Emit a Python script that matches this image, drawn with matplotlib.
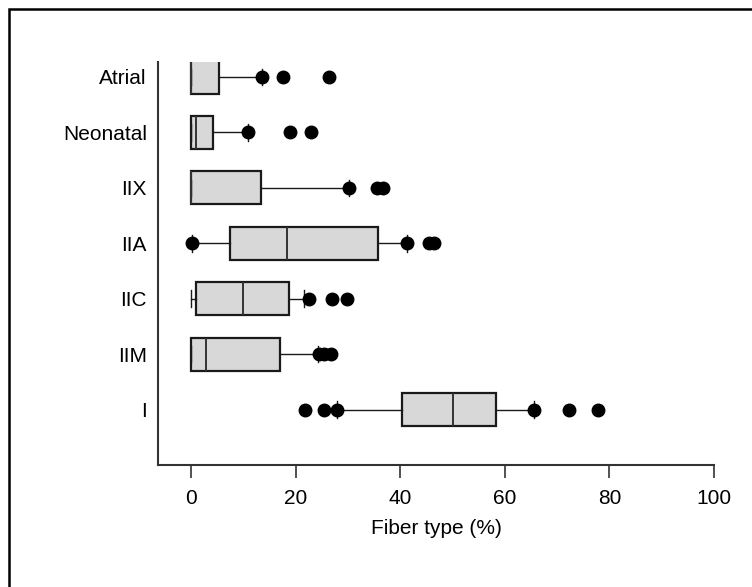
import matplotlib.pyplot as plt
from matplotlib.patches import Rectangle

plt.rcParams['font.family'] = ['Liberation Sans', 'DejaVu Sans']

# categories bottom -> top
categories = ["I", "IIM", "IIC", "IIA", "IIX", "Neonatal", "Atrial"]
q1 = [40.4, 0.0, 0.9, 7.5, 0.0, 0.0, 0.0]
med = [50.1, 2.8, 10.0, 18.4, 0.0, 0.9, 0.0]
q3 = [58.3, 17.0, 18.7, 35.8, 13.3, 4.2, 5.4]
whislo = [28.0, 0.0, 0.1, 0.2, 0.0, 0.0, 0.0]
whishi = [65.6, 24.3, 21.6, 41.3, 30.2, 11.0, 13.6]
points = [
    [21.8, 25.4, 28.0, 65.6, 72.2, 77.8],
    [24.5, 25.5, 26.7],
    [22.5, 27.0, 29.8],
    [0.2, 41.3, 45.6, 46.4],
    [30.2, 35.6, 36.8],
    [11.0, 19.0, 23.0],
    [13.6, 17.6, 26.4],
]
xticks = [0, 20, 40, 60, 80, 100]

stats = []
for i in range(len(categories)):
    stats.append({"label": categories[i], "q1": q1[i], "med": med[i], "q3": q3[i],
                  "whislo": whislo[i], "whishi": whishi[i], "fliers": points[i]})

fig = plt.figure(figsize=(7.52, 5.87), dpi=100)
fig.patches.append(Rectangle((9 / 752, -0.1), 1.2, 1 - 9 / 587 + 0.1, transform=fig.transFigure,
                             fill=False, edgecolor="black", linewidth=1.8))
ax = fig.add_axes([158 / 752, 1 - 465 / 587, (714 - 158) / 752, (465 - 62) / 587])

ax.bxp(stats, positions=range(1, 8), vert=False, widths=0.6, capwidths=0.3,
       patch_artist=True, manage_ticks=False,
       boxprops=dict(facecolor="#d8d8d8", edgecolor="#1a1a1a", linewidth=1.6),
       medianprops=dict(color="#333333", linewidth=1.4),
       whiskerprops=dict(color="#1a1a1a", linewidth=1.0),
       capprops=dict(color="#1a1a1a", linewidth=1.0),
       flierprops=dict(marker="o", markerfacecolor="black", markeredgecolor="black",
                       markersize=9, linestyle="none"))

ax.set_xlim(-6.3, 100)
ax.set_ylim(0, 7.27)
ax.set_yticks(range(1, 8))
ax.set_yticklabels(categories, fontsize=15)
ax.set_xticks(xticks)
ax.set_xticklabels([str(t) for t in xticks], fontsize=15)
ax.tick_params(axis="y", length=0, pad=8)
ax.tick_params(axis="x", length=9.5, width=1.2, pad=8, color="#333333")
for s in ["top", "right"]:
    ax.spines[s].set_visible(False)
for s in ["left", "bottom"]:
    ax.spines[s].set_linewidth(1.5)
    ax.spines[s].set_color("#333333")
ax.set_xlabel("Fiber type (%)", fontsize=15, labelpad=8)

fig.savefig("out.png", dpi=100)
